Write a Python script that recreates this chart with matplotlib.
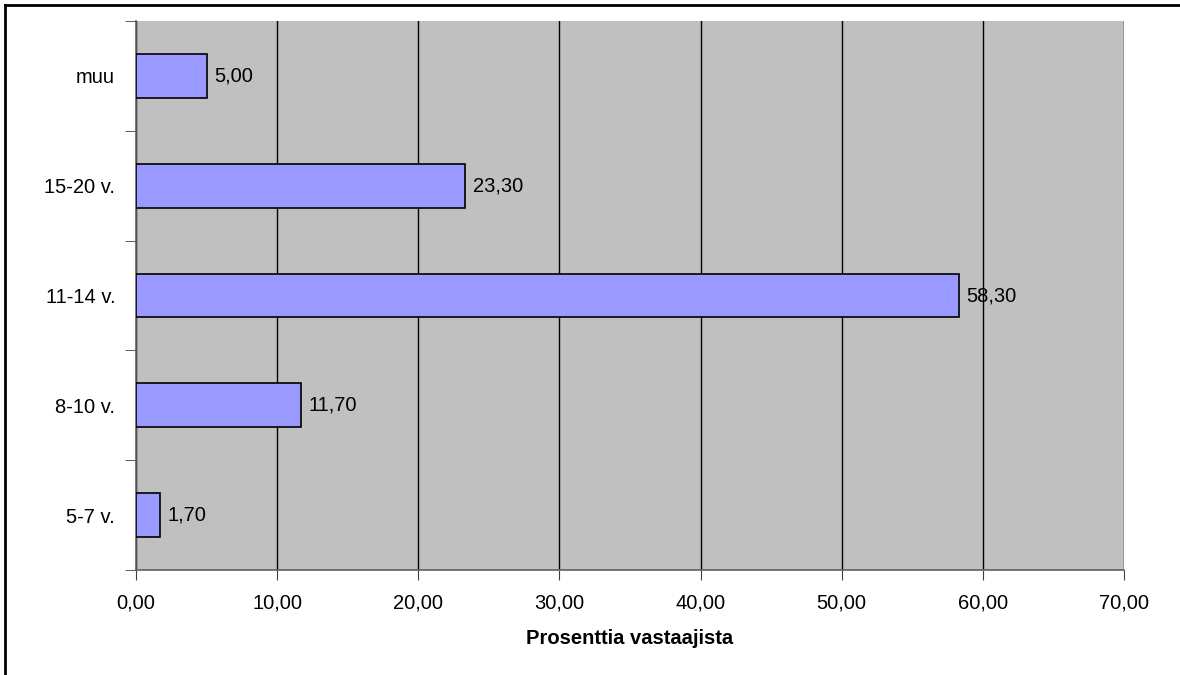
import matplotlib.pyplot as plt
from matplotlib.lines import Line2D

plt.rcParams['font.family'] = ['Liberation Sans', 'DejaVu Sans']

# age groups, bottom to top
categories = ['5-7 v.', '8-10 v.', '11-14 v.', '15-20 v.', 'muu']
values = [1.70, 11.70, 58.30, 23.30, 5.00]
xticks = [0, 10, 20, 30, 40, 50, 60, 70]

FS = 14.5


def fi(v):
    return f"{v:.2f}".replace('.', ',')


fig = plt.figure(figsize=(11.8, 6.75), dpi=100)
ax = fig.add_axes([136 / 1180, 1 - 570 / 675, (1124 - 136) / 1180, (570 - 21) / 675])
ax.set_facecolor('#C0C0C0')

ypos = range(len(categories))
ax.barh(ypos, values, height=0.4, color='#9999FF', edgecolor='black', linewidth=1.2, zorder=3)
for y, v in zip(ypos, values):
    ax.text(v + 0.55, y, fi(v), va='center', ha='left', fontsize=FS, zorder=4)

ax.set_xlim(0, 70)
ax.set_ylim(-0.5, len(categories) - 0.5)
ax.set_xticks(xticks)
ax.set_xticklabels([fi(t) for t in xticks], fontsize=FS)
ax.set_yticks(list(ypos))
ax.set_yticklabels(categories, fontsize=FS)
ax.tick_params(axis='y', length=0, pad=15)
ax.set_yticks([i - 0.5 for i in range(len(categories) + 1)], minor=True)
ax.tick_params(axis='y', which='minor', length=8, color='#404040', direction='out')
ax.tick_params(axis='x', length=7, color='#404040', direction='out', pad=10)

ax.grid(axis='x', color='black', linewidth=1, zorder=1)
ax.set_axisbelow(True)
for s in ['top', 'right']:
    ax.spines[s].set_visible(False)
for s in ['left', 'bottom']:
    ax.spines[s].set_color('#606060')
    ax.spines[s].set_linewidth(1.2)

ax.set_xlabel('Prosenttia vastaajista', fontsize=FS, fontweight='bold', labelpad=12)

# frame around the chart area
fig.add_artist(Line2D([5 / 1180, 5 / 1180], [0, 1 - 5 / 675], color='black', linewidth=2))
fig.add_artist(Line2D([5 / 1180, 1], [1 - 5 / 675, 1 - 5 / 675], color='black', linewidth=2))

fig.savefig('out.png', dpi=100)
